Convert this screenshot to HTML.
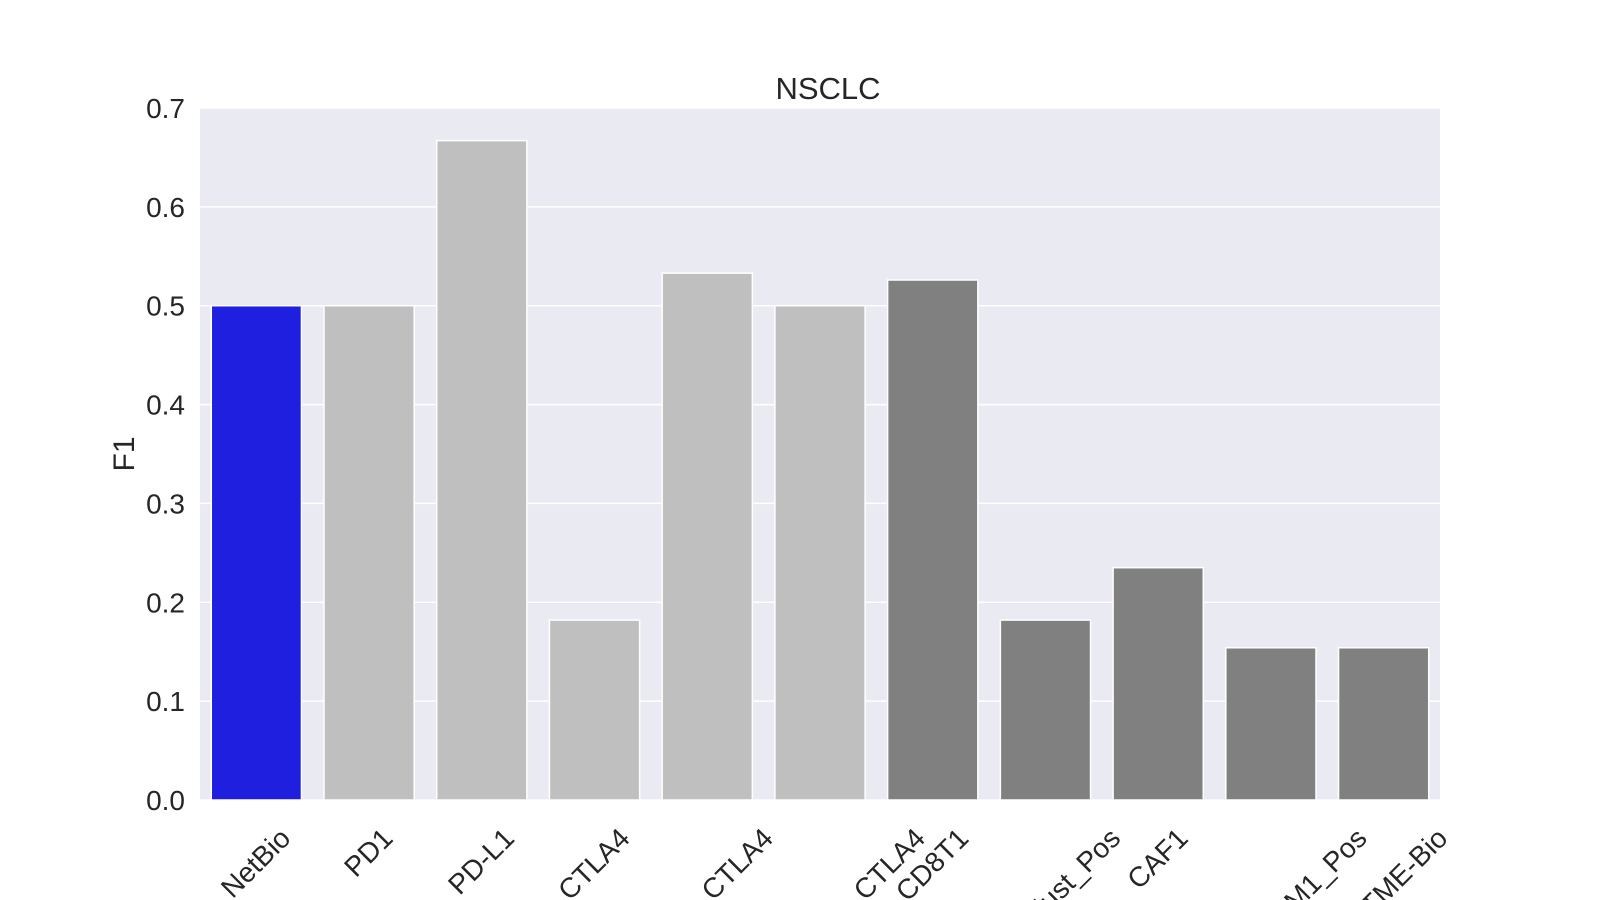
<!DOCTYPE html>
<html><head><meta charset="utf-8"><style>
html,body{margin:0;padding:0;background:#fff;overflow:hidden;}
svg{display:block;font-family:"Liberation Sans",Arial,sans-serif;}
</style></head><body>
<svg id="chart" width="1600" height="900">
<rect x="200" y="108" width="1240" height="692" fill="#eaeaf2"/>
<g id="grid"></g><g id="bars"></g><g id="yticks"></g><g id="xticks"></g>
<text x="828" y="99" font-size="31" text-anchor="middle" fill="#262626">NSCLC</text>
<text transform="translate(134,454) rotate(-90)" font-size="30" text-anchor="middle" fill="#262626">F1</text>
</svg>
<script>
const categories=["NetBio","PD1","PD-L1","CTLA4","PD1 + CTLA4","PD-L1 + PD1 + CTLA4","CD8T1","Tcell_Clust_Pos","CAF1","Macrophag_M1_Pos","Net_TME-Bio"];
const values=[0.5,0.5,0.667,0.182,0.533,0.5,0.526,0.182,0.235,0.154,0.154];
const groups=["netbio","light","light","light","light","light","dark","dark","dark","dark","dark"];
const yTicks=[0,0.1,0.2,0.3,0.4,0.5,0.6,0.7];
const colors={netbio:"#1f1fe0",light:"#bfbfbf",dark:"#808080"};
const X0=200,X1=1440,Y0=800,Y1=108,YMAX=0.7;
const band=(X1-X0)/categories.length;
const xc=i=>X0+band*(i+0.5);
const y=v=>Y0-(v/YMAX)*(Y0-Y1);
const NS="http://www.w3.org/2000/svg";
const mk=(t,a)=>{const e=document.createElementNS(NS,t);for(const k in a)e.setAttribute(k,a[k]);return e;};
const grid=document.getElementById('grid'),bars=document.getElementById('bars'),yt=document.getElementById('yticks'),xt=document.getElementById('xticks');
yTicks.forEach(v=>{
  const l=mk('line',{x1:X0,x2:X1,y1:y(v),y2:y(v),stroke:'#fff','stroke-width':1.5});
  
  
  grid.appendChild(l);
  const t=mk('text',{x:185,y:y(v)+10,'font-size':28,'text-anchor':'end',fill:'#262626'});
  t.textContent=v.toFixed(1);
  
  
  yt.appendChild(t);
});
categories.forEach((c,i)=>{
  const w=band*0.8;
  const r=mk('rect',{x:xc(i)-w/2,y:y(values[i]),width:w,height:Y0-y(values[i]),fill:colors[groups[i]],stroke:'#fff','stroke-width':1.5});
  
  
  bars.appendChild(r);
  const t=mk('text',{'font-size':28,'text-anchor':'end',fill:'#262626'});
  t.textContent=c;
  
  
  xt.appendChild(t);
  const W=t.getComputedTextLength();
  const ex=xc(i)+0.354*W+6, ey=840;
  t.setAttribute('transform',`translate(${ex},${ey}) rotate(-45)`);
});
</script>
</body></html>
